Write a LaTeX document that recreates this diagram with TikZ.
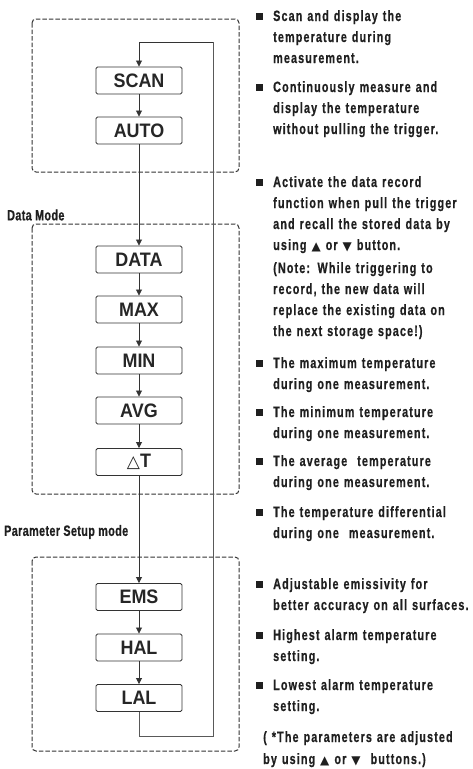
\documentclass[tikz,border=0pt]{standalone}
\usepackage{fontspec}
\setmainfont{Liberation Sans}
\newfontfamily\narrowfont[FakeStretch=0.72,LetterSpace=7.5,FakeBold=0.6]{Liberation Sans}
\newfontfamily\labelfont[FakeStretch=0.72,LetterSpace=2.5,FakeBold=0.6]{Liberation Sans}
\newfontfamily\boxfont[FakeStretch=0.92]{Liberation Sans}
\newfontfamily\symfont{DejaVu Sans}
\usetikzlibrary{arrows.meta}
\newcommand{\bul}{\llap{\rule[0.8pt]{7pt}{7pt}\hspace{10.5pt}}}
\newcommand{\up}{{\symfont\fontsize{12}{12}\selectfont ▲}}
\newcommand{\dn}{{\symfont\fontsize{12}{12}\selectfont ▼}}

\begin{document}
\begin{tikzpicture}[x=1pt, y=-1pt,
  modebox/.style={draw=black!80, line width=0.9pt, rounded corners=1.5pt, minimum width=86pt, minimum height=27pt, inner sep=0pt, text=black!85, font=\boxfont\bfseries\fontsize{19.5}{19.5}\selectfont},
  group/.style={draw=black!80, line width=1pt, dash pattern=on 4.5pt off 2pt, rounded corners=4pt},
  flow/.style={draw=black!80, line width=0.8pt, -{Triangle[length=6pt,width=6pt]}},
  loop/.style={draw=black!65, line width=0.8pt},
  note/.style={anchor=base west, inner sep=0pt, text width=205pt, align=left, text=black!88, font=\narrowfont\bfseries\fontsize{15}{21}\selectfont},
  modelabel/.style={anchor=west, inner sep=0pt, text=black!88, font=\labelfont\bfseries\fontsize{15}{16}\selectfont}]
  \useasboundingbox (0,0) rectangle (472,769);

  \draw[group] (32,19) rectangle (239,172);
  \draw[group] (32,224) rectangle (239,494);
  \draw[group] (32,557) rectangle (239,751);

  \node[modebox] (scan) at (139,80.5) {SCAN};
  \node[modebox] (auto) at (139,130.5) {AUTO};
  \node[modebox] (data) at (139,259.5) {DATA};
  \node[modebox] (max) at (139,309.5) {MAX};
  \node[modebox] (min) at (139,360.5) {MIN};
  \node[modebox] (avg) at (139,410.5) {AVG};
  \node[modebox] (dT) at (139,462) {{\symfont\fontsize{17}{17}\selectfont △}T};
  \node[modebox] (ems) at (139,597) {EMS};
  \node[modebox] (hal) at (139,647.5) {HAL};
  \node[modebox] (lal) at (139,698) {LAL};

  \node[modelabel] (datalbl) at (7,215) {Data Mode};
  \node[modelabel] (setuplbl) at (4,532) {Parameter Setup mode};

  \foreach \a/\b in {scan/auto, auto/data, data/max, max/min, min/avg, avg/dT, dT/ems, ems/hal, hal/lal}
    \draw[flow] (\a) -- (\b);

  \coordinate (loopbot) at (213,736);
  \coordinate (looptop) at (213,42);
  \draw[loop] (lal.south) |- (loopbot) -- (looptop);
  \draw[flow] (looptop) -| (scan.north);

  \node[note] (n1) at (273,21) {\bul Scan and display the\\temperature during\\measurement.};
  \node[note] (n2) at (273,92) {\bul Continuously measure and\\display the temperature\\without pulling the trigger.};
  \node[note] (n3) at (273,187) {\bul Activate the data record\\function when pull the trigger\\and recall the stored data by\\using \up{} or \dn{} button.};
  \node[note] (n3b) at (273,273) {(Note: While triggering to\\record, the new data will\\replace the existing data on\\the next storage space!)};
  \node[note] (n4) at (273,368) {\bul The maximum temperature\\during one measurement.};
  \node[note] (n5) at (273,417) {\bul The minimum temperature\\during one measurement.};
  \node[note] (n6) at (273,466) {\bul The average \ temperature\\during one measurement.};
  \node[note] (n7) at (273,517) {\bul The temperature differential\\during one \ measurement.};
  \node[note] (n8) at (273,589) {\bul Adjustable emissivity for\\better accuracy on all surfaces.};
  \node[note] (n9) at (273,640) {\bul Highest alarm temperature\\setting.};
  \node[note] (n10) at (273,690) {\bul Lowest alarm temperature\\setting.};
  \node[note, font=\narrowfont\bfseries\fontsize{15}{22}\selectfont] (foot) at (263,742) {( *The parameters are adjusted\\by using \up{} or \dn{} \ buttons.)};
\end{tikzpicture}
\end{document}
